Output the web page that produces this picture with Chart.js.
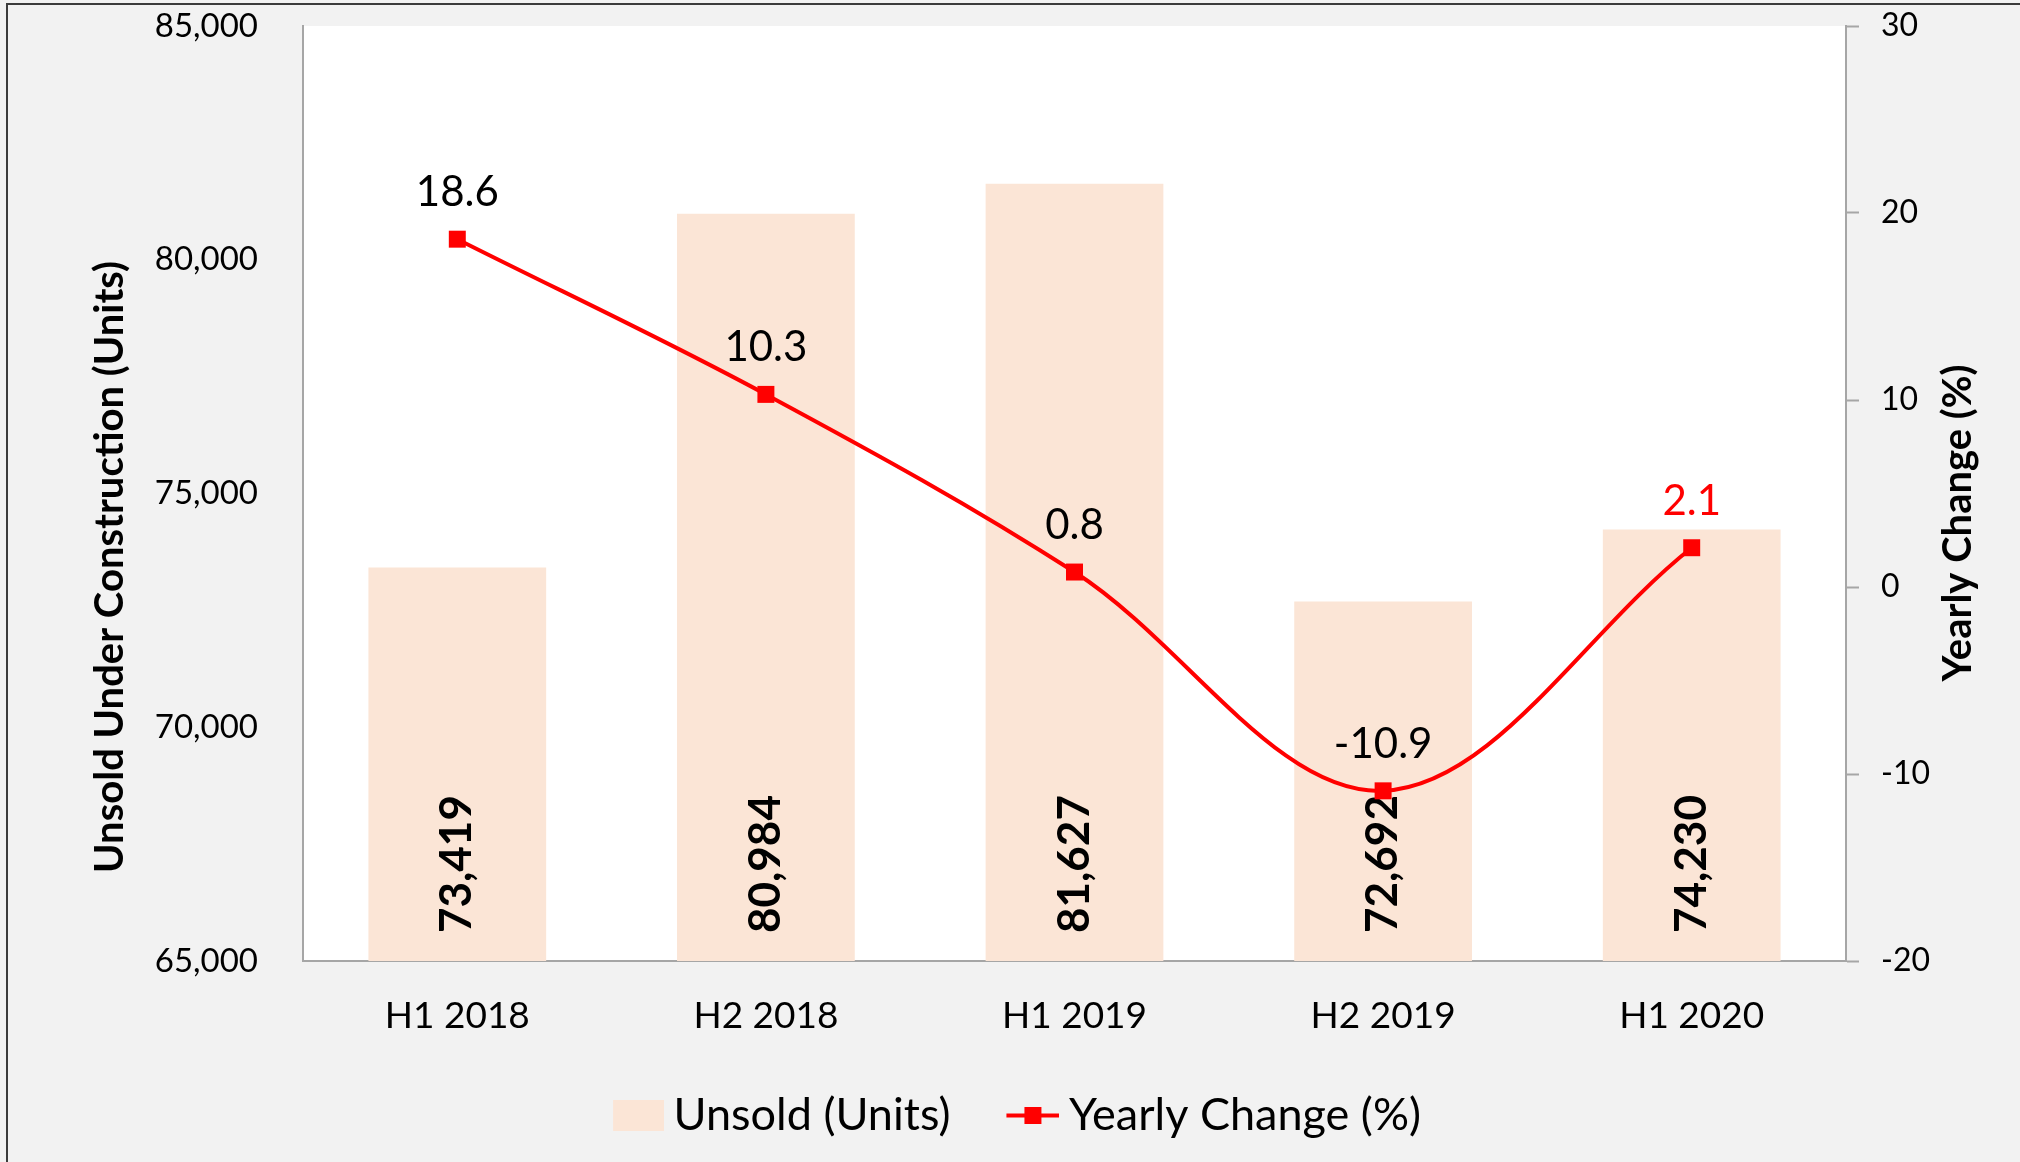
<!DOCTYPE html>
<html>
<head>
<meta charset="utf-8">
<title>Unsold Under Construction</title>
<script src="https://cdn.jsdelivr.net/npm/chart.js@4.4.0/dist/chart.umd.min.js"></script>
<style>
  html, body { margin: 0; padding: 0; background: #F2F2F2; overflow: hidden; }
  canvas { display: block; }
</style>
</head>
<body>
<canvas id="mycanvas" width="2020" height="1162"></canvas>
<script>
// data
var periods = ['H1 2018', 'H2 2018', 'H1 2019', 'H2 2019', 'H1 2020'];
var unsold = [73419, 80984, 81627, 72692, 74230];
var yearlyChange = [18.6, 10.3, 0.8, -10.9, 2.1];
var unitTicks = [65000, 70000, 75000, 80000, 85000];
var changeTicks = [-20, -10, 0, 10, 20, 30];

var barColor = '#FBE5D6';
var lineColor = '#FF0000';
var axisColor = '#A6A6A6';

Chart.defaults.font.family = 'Lato, Carlito, "Open Sans", sans-serif';
Chart.defaults.color = '#000000';

// legend icons: content sits in the right half so the gap before the text stays small
function makeIcon(draw) {
    var c = document.createElement('canvas');
    c.width = 102;
    c.height = 31;
    draw(c.getContext('2d'));
    return c;
}
var barIcon = makeIcon(function(g) {
    g.fillStyle = barColor;
    g.fillRect(51, 0, 51, 31);
});
var lineIcon = makeIcon(function(g) {
    g.strokeStyle = lineColor;
    g.lineWidth = 4;
    g.beginPath();
    g.moveTo(49, 15.5);
    g.lineTo(102, 15.5);
    g.stroke();
    g.fillStyle = lineColor;
    g.fillRect(67, 7, 17, 17);
});
var legendIcons = [barIcon, lineIcon];

function drawBarLabels(chart) {
    var ctx = chart.ctx;
    var meta = chart.getDatasetMeta(0);
    var base = chart.scales.y.getPixelForValue(unitTicks[0]);
    ctx.save();
    ctx.font = 'bold 44px Lato';
    ctx.fillStyle = '#000000';
    ctx.textAlign = 'left';
    ctx.textBaseline = 'middle';
    meta.data.forEach(function(bar, i) {
        ctx.save();
        ctx.translate(bar.x, base - 28);
        ctx.rotate(-Math.PI / 2);
        ctx.fillText(unsold[i].toLocaleString('en-US'), 0, 0);
        ctx.restore();
    });
    ctx.restore();
}

var chartDecor = {
    id: 'chartDecor',
    beforeDraw: function(chart) {
        var ctx = chart.ctx, a = chart.chartArea;
        ctx.save();
        ctx.fillStyle = '#F2F2F2';
        ctx.fillRect(0, 0, chart.width, chart.height);
        ctx.fillStyle = '#FFFFFF';
        ctx.fillRect(a.left, a.top, a.right - a.left, a.bottom - a.top);
        ctx.strokeStyle = '#3C3C3C';
        ctx.lineWidth = 2;
        ctx.beginPath();
        ctx.moveTo(7, chart.height);
        ctx.lineTo(7, 4);
        ctx.lineTo(chart.width, 4);
        ctx.stroke();
        ctx.restore();
    },
    // bar values go in after the bars and under the line
    beforeDatasetDraw: function(chart, args) {
        if (args.index === 1) drawBarLabels(chart);
    },
    afterDatasetsDraw: function(chart) {
        var ctx = chart.ctx;
        var meta = chart.getDatasetMeta(1);
        ctx.save();
        ctx.font = '42px Lato';
        ctx.textAlign = 'center';
        ctx.textBaseline = 'alphabetic';
        meta.data.forEach(function(pt, i) {
            ctx.fillStyle = (i === meta.data.length - 1) ? lineColor : '#000000';
            ctx.fillText(yearlyChange[i].toFixed(1), pt.x, pt.y - 33);
        });

        // axis titles
        ctx.font = 'bold 40px Lato';
        ctx.fillStyle = '#000000';
        ctx.textBaseline = 'middle';
        ctx.save();
        ctx.translate(110, 567);
        ctx.rotate(-Math.PI / 2);
        ctx.fillText('Unsold Under Construction (Units)', 0, 0);
        ctx.restore();
        ctx.save();
        ctx.translate(1958, 523);
        ctx.rotate(-Math.PI / 2);
        ctx.fillText('Yearly Change (%)', 0, 0);
        ctx.restore();
        ctx.restore();
    }
};

var ctx = document.getElementById('mycanvas');
var comboChart = new Chart(ctx, {
    type: 'bar',
    data: {
        labels: periods,
        datasets: [
            {
                type: 'bar',
                label: 'Unsold (Units)',
                data: unsold,
                backgroundColor: barColor,
                borderWidth: 0,
                barPercentage: 0.576,
                categoryPercentage: 1,
                yAxisID: 'y',
                order: 2
            },
            {
                type: 'line',
                label: 'Yearly Change (%)',
                data: yearlyChange,
                borderColor: lineColor,
                backgroundColor: lineColor,
                borderWidth: 4,
                tension: 0.35,
                fill: false,
                pointStyle: 'rect',
                pointRadius: 12,
                pointBorderWidth: 0,
                pointBackgroundColor: lineColor,
                yAxisID: 'y1',
                order: 1
            }
        ]
    },
    options: {
        responsive: false,
        animation: false,
        devicePixelRatio: 1,
        layout: { padding: { top: 26, left: 0, right: 24, bottom: 14 } },
        plugins: {
            tooltip: { enabled: false },
            legend: {
                position: 'bottom',
                labels: {
                    usePointStyle: true,
                    pointStyleWidth: 76,
                    padding: 20,
                    color: '#000000',
                    font: { size: 45 },
                    sort: function(a, b) { return a.datasetIndex - b.datasetIndex; },
                    generateLabels: function(chart) {
                        var items = Chart.defaults.plugins.legend.labels.generateLabels(chart);
                        items.forEach(function(it) { it.pointStyle = legendIcons[it.datasetIndex]; });
                        return items;
                    }
                }
            }
        },
        scales: {
            x: {
                grid: { display: false, drawTicks: false },
                border: { display: true, color: axisColor, width: 2 },
                ticks: { color: '#000000', font: { size: 37 }, padding: 33 },
                afterFit: function(s) { s.height = 112; }
            },
            y: {
                position: 'left',
                min: unitTicks[0],
                max: unitTicks[unitTicks.length - 1],
                // invisible tick marks make the gap to the labels
                grid: { display: true, drawOnChartArea: false, drawTicks: true, tickLength: 45, tickColor: 'rgba(0,0,0,0)' },
                border: { display: true, color: axisColor, width: 2 },
                ticks: {
                    color: '#000000',
                    font: { size: 33 },
                    padding: 0,
                    callback: function(v) { return Number(v).toLocaleString('en-US'); }
                },
                afterBuildTicks: function(s) { s.ticks = unitTicks.map(function(v) { return { value: v }; }); },
                afterFit: function(s) { s.width = 303; }
            },
            y1: {
                position: 'right',
                min: changeTicks[0],
                max: changeTicks[changeTicks.length - 1],
                // 12px visible tick, rest of the length is the label gap
                grid: { drawOnChartArea: false, drawTicks: true, tickLength: 35, tickColor: axisColor, tickWidth: 2, tickBorderDash: [12, 200] },
                border: { display: true, color: axisColor, width: 2 },
                ticks: { color: '#000000', font: { size: 32 }, padding: 0 },
                afterBuildTicks: function(s) { s.ticks = changeTicks.map(function(v) { return { value: v }; }); },
                afterFit: function(s) { s.width = 150; }
            }
        }
    },
    plugins: [chartDecor]
});
</script>
</body>
</html>
